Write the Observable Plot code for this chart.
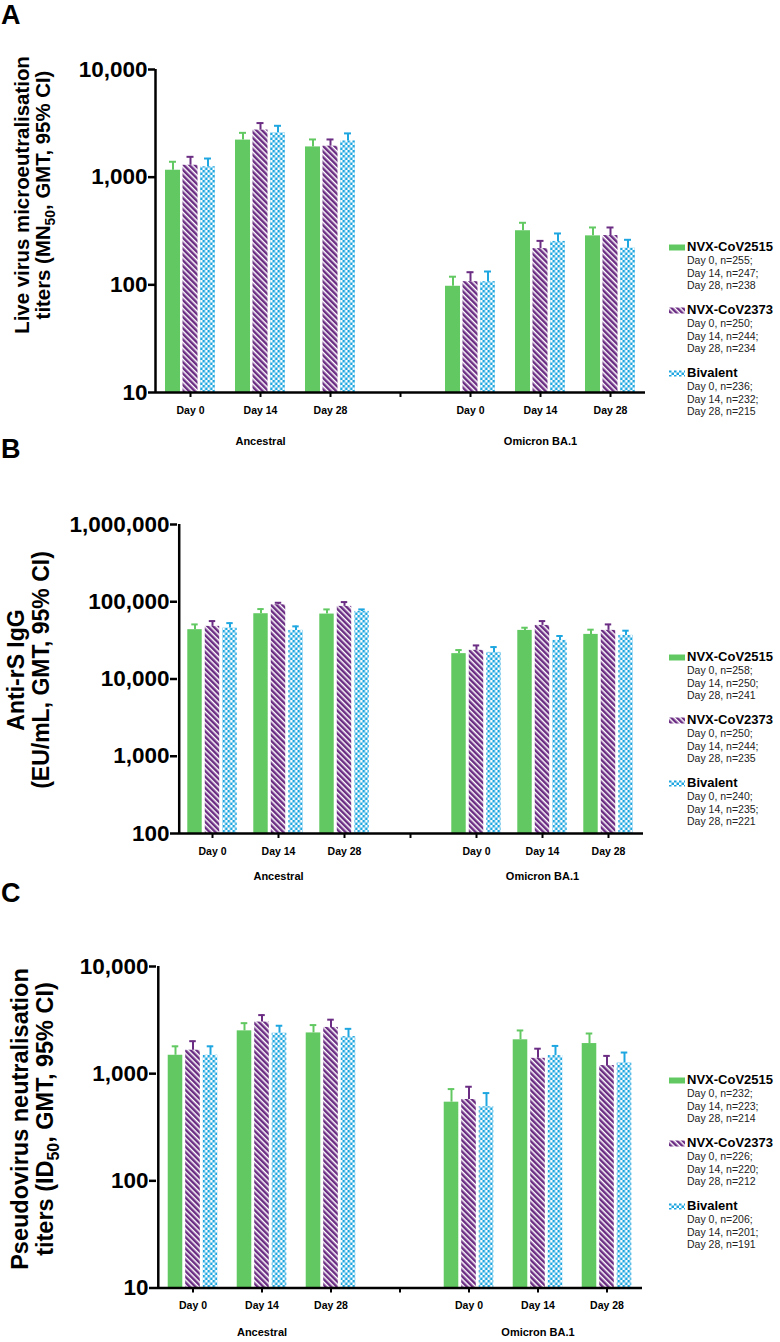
<!DOCTYPE html>
<html>
<head>
<meta charset="utf-8">
<script src="https://cdn.jsdelivr.net/npm/d3@7"></script>
<script src="https://cdn.jsdelivr.net/npm/@observablehq/plot@0.6"></script>
<style>
  html, body { margin: 0; padding: 0; background: #fff; }
  body { font-family: "Liberation Sans", Arial, sans-serif; color: #000; }
  #root { position: relative; width: 780px; height: 1342px; overflow: hidden; }
  .panel { position: absolute; left: 0; }
  .letter { position: absolute; left: 1px; font-weight: bold; font-size: 27px; line-height: 27px; }
  #overlay { position: absolute; left: 0; top: 0; pointer-events: none; }
  .legend { position: absolute; left: 669px; }
  .litem { position: absolute; left: 0; white-space: nowrap; }
  .lhead { font-weight: bold; font-size: 13px; line-height: 14px; height: 14px; display: flex; align-items: center; }
  .lhead svg { margin-right: 2px; }
  .ldet { font-size: 10.5px; line-height: 12.5px; color: #222; margin-left: 18px; }
</style>
</head>
<body>
<svg width="0" height="0" style="position:absolute">
  <defs>
    <pattern id="stripes" patternUnits="userSpaceOnUse" width="4" height="4" patternTransform="rotate(-45)">
      <rect x="0" y="0" width="4" height="4" fill="#ffffff"></rect>
      <rect x="0" y="0" width="2.5" height="4" fill="#6b2d83"></rect>
    </pattern>
    <pattern id="checks" patternUnits="userSpaceOnUse" width="5" height="5">
      <rect x="0" y="0" width="5" height="5" fill="#ffffff"></rect>
      <rect x="0" y="0" width="2.5" height="2.5" fill="#1ea6e0"></rect>
      <rect x="2.5" y="2.5" width="2.5" height="2.5" fill="#1ea6e0"></rect>
    </pattern>
  </defs>
</svg>
<div id="root"></div>
<script>
// ---------- DATA ----------
const series = ["NVX-CoV2515", "NVX-CoV2373", "Bivalent"];
const variants = ["Ancestral", "Omicron BA.1"];
const days = ["Day 0", "Day 14", "Day 28"];

// Panel A: live virus microneutralisation (GMT and upper 95% CI), order: Ancestral D0,D14,D28, Omicron D0,D14,D28
const A_gmt_2515   = [1160, 2210, 1910,  97, 318, 285];
const A_upper_2515 = [1390, 2580, 2240, 119, 377, 341];
const A_gmt_2373   = [1290, 2740, 1940, 107, 217, 287];
const A_upper_2373 = [1545, 3180, 2240, 131, 256, 341];
const A_gmt_biv    = [1250, 2580, 2170, 107, 253, 219];
const A_upper_biv  = [1490, 3000, 2550, 133, 300, 262];
const A_n_2515 = [255, 247, 238];
const A_n_2373 = [250, 244, 234];
const A_n_biv  = [236, 232, 215];
const A_ticks = [10, 100, 1000, 10000];

// Panel B: anti-rS IgG
const B_gmt_2515   = [43500, 70000, 69300, 21300, 42600, 37800];
const B_upper_2515 = [50900, 80400, 79600, 23700, 46100, 43500];
const B_gmt_2373   = [48000, 91400, 87100, 23500, 49400, 42600];
const B_upper_2373 = [56200, 97000, 99000, 27200, 56200, 50900];
const B_gmt_biv    = [45600, 42600, 75000, 22100, 31600, 36700];
const B_upper_biv  = [52900, 48000, 79600, 25900, 36000, 42200];
const B_n_2515 = [258, 250, 241];
const B_n_2373 = [250, 244, 235];
const B_n_biv  = [240, 235, 221];
const B_ticks = [100, 1000, 10000, 100000, 1000000];

// Panel C: pseudovirus neutralisation
const C_gmt_2515   = [1485, 2510, 2400, 542, 2070, 1910];
const C_upper_2515 = [1800, 2960, 2840, 718, 2530, 2370];
const C_gmt_2373   = [1655, 3030, 2700, 574, 1390, 1190];
const C_upper_2373 = [2010, 3520, 3190, 755, 1710, 1465];
const C_gmt_biv    = [1485, 2390, 2220, 491, 1475, 1260];
const C_upper_biv  = [1800, 2800, 2620, 659, 1815, 1575];
const C_n_2515 = [232, 223, 214];
const C_n_2373 = [226, 220, 212];
const C_n_biv  = [206, 201, 191];
const C_ticks = [10, 100, 1000, 10000];

// ---------- STYLE ----------
const seriesFill = ["#62c962", "url(#stripes)", "url(#checks)"];
const seriesStroke = ["#62c962", "#6b2d83", "#1ea6e0"];
const seriesOffset = [-17.5, 0, 17.5];
const barW = 15, capW = 7;
const FONT = '"Liberation Sans", Arial, sans-serif';

const xKeys = [...days.map(d => variants[0] + "|" + d), "gap", ...days.map(d => variants[1] + "|" + d)];

function buildRows(gmts, uppers) {
  const rows = [];
  series.forEach((s, i) => {
    variants.forEach((v, j) => {
      days.forEach((d, k) => {
        const idx = j * 3 + k;
        rows.push({series: s, si: i, key: v + "|" + d, gmt: gmts[i][idx], upper: uppers[i][idx]});
      });
    });
  });
  return rows;
}

function panel(cfg) {
  const rows = buildRows(cfg.gmts, cfg.uppers);
  const bw = (780 - cfg.mL - cfg.mR) / xKeys.length;
  const marks = [];
  series.forEach((s, i) => {
    const r = rows.filter(d => d.si === i);
    marks.push(Plot.barY(r, {x: "key", y1: cfg.domain[0], y2: "gmt", fill: seriesFill[i],
      insetLeft: (bw - barW) / 2, insetRight: (bw - barW) / 2, dx: seriesOffset[i]}));
  });
  series.forEach((s, i) => {
    const r = rows.filter(d => d.si === i);
    marks.push(Plot.ruleX(r, {x: "key", y1: "gmt", y2: "upper", stroke: seriesStroke[i], strokeWidth: 2, dx: seriesOffset[i]}));
    marks.push(Plot.tickY(r, {x: "key", y: "upper", stroke: seriesStroke[i], strokeWidth: 2,
      insetLeft: (bw - capW) / 2, insetRight: (bw - capW) / 2, dx: seriesOffset[i]}));
  });
  marks.push(Plot.ruleY([cfg.domain[0]], {stroke: "#000", strokeWidth: 2.5}));
  marks.push(Plot.ruleX([xKeys[0]], {dx: -bw / 2, stroke: "#000", strokeWidth: 2.5}));
  marks.push(Plot.axisY({ticks: cfg.ticks, tickSize: 7, tickPadding: 1, strokeWidth: 2.5,
    tickFormat: d3.format(","), fontSize: 22.5, fontWeight: "bold", label: null}));
  marks.push(Plot.axisX({tickSize: 5, tickPadding: 9, strokeWidth: 2, fontSize: 10.5, fontWeight: "bold",
    tickFormat: d => d === "gap" ? "" : d.split("|")[1], label: null}));
  marks.push(Plot.text(variants, {x: d => d + "|" + days[1], frameAnchor: "bottom", dy: cfg.catDy,
    text: d => d, fontSize: 11, fontWeight: "bold"}));
  return Plot.plot({
    width: 780, height: cfg.height,
    marginLeft: cfg.mL, marginRight: cfg.mR, marginTop: cfg.mT, marginBottom: cfg.mB,
    style: {fontFamily: FONT, color: "#000", background: "transparent", overflow: "visible"},
    x: {type: "band", domain: xKeys, padding: 0, axis: null},
    y: {type: "log", domain: cfg.domain, axis: null},
    marks
  });
}

const panels = [
  {letter: "A", top: 0, height: 460, mL: 155, mR: 135, mT: 69, mB: 68, domain: [10, 10000], ticks: A_ticks, catDy: 52,
   gmts: [A_gmt_2515, A_gmt_2373, A_gmt_biv], uppers: [A_upper_2515, A_upper_2373, A_upper_biv],
   ns: [A_n_2515, A_n_2373, A_n_biv],
   letterTop: 2, title: [["Live virus microeutralisation"], ["titers (MN", "50", ", GMT, 95% CI)"]],
   titleX: [21.7, 43], titleY: 195, titleSize: 20.4, legendTop: 240},
  {letter: "B", top: 460, height: 435, mL: 177, mR: 137, mT: 64, mB: 62, domain: [100, 1000000], ticks: B_ticks, catDy: 46,
   gmts: [B_gmt_2515, B_gmt_2373, B_gmt_biv], uppers: [B_upper_2515, B_upper_2373, B_upper_biv],
   ns: [B_n_2515, B_n_2373, B_n_biv],
   letterTop: 436, title: [["Anti-rS IgG"], ["(EU/mL, GMT, 95% CI)"]],
   titleX: [15.5, 41], titleY: 670, titleSize: 23, legendTop: 650},
  {letter: "C", top: 895, height: 447, mL: 156, mR: 138, mT: 71, mB: 54.5, domain: [10, 10000], ticks: C_ticks, catDy: 48,
   gmts: [C_gmt_2515, C_gmt_2373, C_gmt_biv], uppers: [C_upper_2515, C_upper_2373, C_upper_biv],
   ns: [C_n_2515, C_n_2373, C_n_biv],
   letterTop: 880, title: [["Pseudovirus neutralisation"], ["titers (ID", "50", ", GMT, 95% CI)"]],
   titleX: [20, 45], titleY: 1119, titleSize: 23.5, legendTop: 1073}
];

const root = document.getElementById("root");

function swatch(i) {
  const ns = "http://www.w3.org/2000/svg";
  const svg = document.createElementNS(ns, "svg");
  svg.setAttribute("width", 16); svg.setAttribute("height", 7);
  const r = document.createElementNS(ns, "rect");
  r.setAttribute("x", 0); r.setAttribute("y", 0.5); r.setAttribute("width", 16); r.setAttribute("height", 6);
  r.setAttribute("fill", seriesFill[i]);
  svg.appendChild(r);
  return svg;
}

panels.forEach(p => {
  const wrap = document.createElement("div");
  wrap.className = "panel";
  wrap.style.top = p.top + "px";
  wrap.appendChild(panel(p));
  root.appendChild(wrap);

  const L = document.createElement("div");
  L.className = "letter";
  L.style.top = p.letterTop + "px";
  L.textContent = p.letter;
  root.appendChild(L);

  const leg = document.createElement("div");
  leg.className = "legend";
  leg.style.top = p.legendTop + "px";
  series.forEach((s, i) => {
    const item = document.createElement("div");
    item.className = "litem";
    item.style.top = (i * 63) + "px";
    const head = document.createElement("div");
    head.className = "lhead";
    head.appendChild(swatch(i));
    head.appendChild(document.createTextNode(s));
    item.appendChild(head);
    days.forEach((d, k) => {
      const det = document.createElement("div");
      det.className = "ldet";
      det.textContent = d + ", n=" + p.ns[i][k] + (k < 2 ? ";" : "");
      item.appendChild(det);
    });
    leg.appendChild(item);
  });
  root.appendChild(leg);
});

// Rotated y-axis titles in an SVG overlay
const overlay = d3.select(root).append("svg").attr("id", "overlay").attr("width", 780).attr("height", 1342);
panels.forEach(p => {
  p.title.forEach((parts, li) => {
    const t = overlay.append("text")
      .attr("transform", `translate(${p.titleX[li]},${p.titleY}) rotate(-90)`)
      .attr("text-anchor", "middle")
      .attr("dy", "0.36em")
      .attr("font-family", FONT)
      .attr("font-weight", "bold")
      .attr("font-size", p.titleSize)
      .attr("fill", "#000");
    if (parts.length === 1) {
      t.text(parts[0]);
    } else {
      t.append("tspan").text(parts[0]);
      t.append("tspan").attr("dy", p.titleSize * 0.22).attr("font-size", p.titleSize * 0.68).text(parts[1]);
      t.append("tspan").attr("dy", -p.titleSize * 0.22).text(parts[2]);
    }
  });
});
</script>
</body>
</html>
